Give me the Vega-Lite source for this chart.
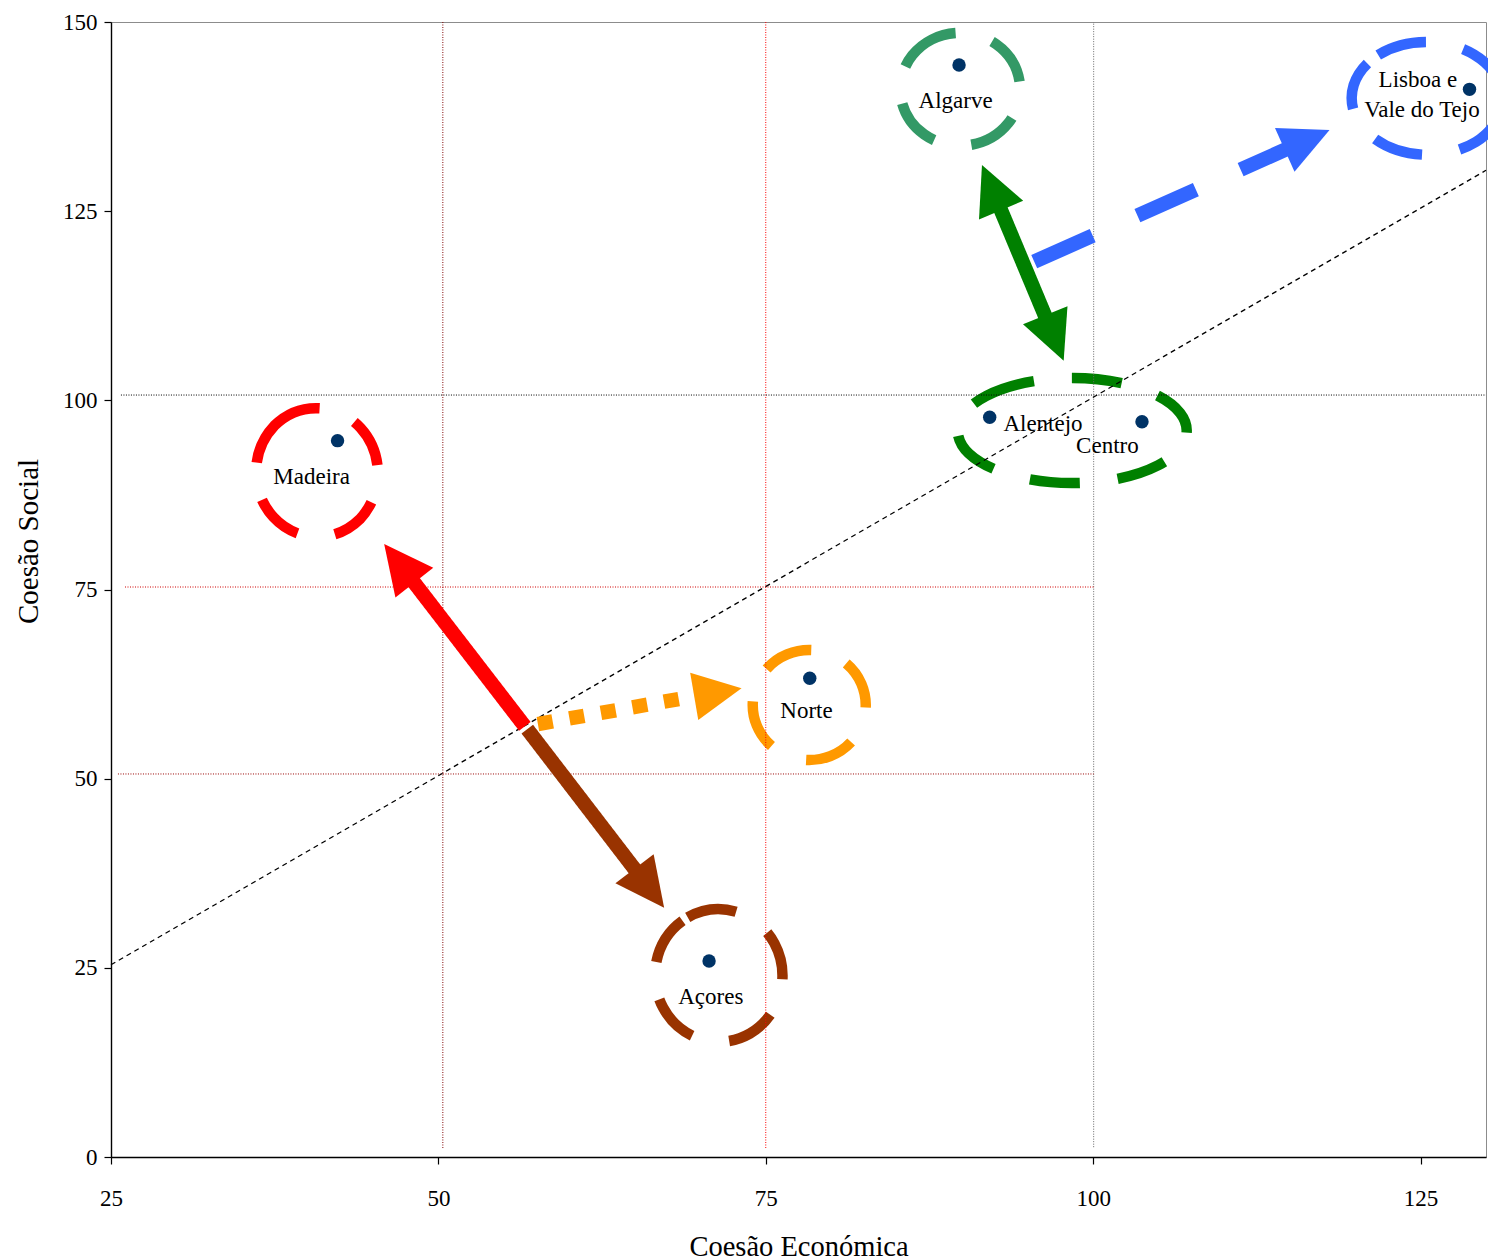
{
  "$schema": "https://vega.github.io/schema/vega-lite/v6.json",
  "width": 1375,
  "height": 1135,
  "autosize": {"type": "none"},
  "padding": {"left": 111, "top": 22, "right": 2, "bottom": 103},
  "background": "white",
  "config": {"view": {"stroke": "#8c8c8c", "strokeWidth": 1}, "font": "Liberation Serif"},
  "datasets": {
    "pts": [
      {"region": "Algarve", "x": 89.76, "y": 144.32},
      {"region": "Lisboa e Vale do Tejo", "x": 128.74, "y": 141.1},
      {"region": "Alentejo", "x": 92.1, "y": 97.76},
      {"region": "Centro", "x": 103.73, "y": 97.18},
      {"region": "Madeira", "x": 42.3, "y": 94.67},
      {"region": "Norte", "x": 78.36, "y": 63.26},
      {"region": "Açores", "x": 70.67, "y": 25.9}
    ],
    "labels": [
      {"label": "Algarve", "x": 89.5, "y": 138.63},
      {"label": "Lisboa e", "x": 124.8, "y": 141.45},
      {"label": "Vale do Tejo", "x": 125.11, "y": 137.4},
      {"label": "Alentejo", "x": 96.17, "y": 95.95},
      {"label": "Centro", "x": 101.09, "y": 93.08},
      {"label": "Madeira", "x": 40.32, "y": 88.9},
      {"label": "Norte", "x": 78.11, "y": 57.98},
      {"label": "Açores", "x": 70.8, "y": 20.18}
    ],
    "ellipses": [
      {"grp": "Algarve", "x": 89.85, "y": 141.1},
      {"grp": "Lisboa", "x": 125.5, "y": 139.9},
      {"grp": "Alentejo-Centro", "x": 98.4, "y": 96.0},
      {"grp": "Madeira", "x": 40.73, "y": 90.46},
      {"grp": "Norte", "x": 78.32, "y": 59.73},
      {"grp": "Açores", "x": 71.41, "y": 23.99}
    ],
    "grid": [
      {"line": "v50", "x": 50.34, "y": 1.19, "x2": 50.34, "y2": 150},
      {"line": "v75", "x": 75.0, "y": 1.19, "x2": 75.0, "y2": 150},
      {"line": "v100", "x": 100.04, "y": 1.3, "x2": 100.04, "y2": 150},
      {"line": "h100", "x": 25.76, "y": 100.7, "x2": 130, "y2": 100.7},
      {"line": "h75", "x": 26.07, "y": 75.33, "x2": 100.04, "y2": 75.33},
      {"line": "h50", "x": 25.53, "y": 50.62, "x2": 100.04, "y2": 50.62}
    ],
    "diag": [
      {"x": 25, "y": 25.4, "x2": 130, "y2": 130.4}
    ],
    "shafts": [
      {"arrow": "red", "x": 56.6, "y": 56.92, "x2": 47.01, "y2": 78.47},
      {"arrow": "brown", "x": 56.79, "y": 56.54, "x2": 66.11, "y2": 35.52},
      {"arrow": "orange", "x": 57.6, "y": 57.22, "x2": 68.57, "y2": 60.58},
      {"arrow": "green", "x": 92.25, "y": 128.07, "x2": 97.02, "y2": 108.32},
      {"arrow": "blue", "x": 95.5, "y": 118.32, "x2": 115.36, "y2": 133.65}
    ],
    "heads": [
      {"arrow": "red", "x": 45.86, "y": 81.01},
      {"arrow": "brown", "x": 67.24, "y": 32.95},
      {"arrow": "orange", "x": 73.15, "y": 61.94},
      {"arrow": "greenTop", "x": 91.51, "y": 131.1},
      {"arrow": "greenBottom", "x": 97.75, "y": 105.24},
      {"arrow": "blue", "x": 118.05, "y": 135.73}
    ]
  },
  "encoding": {
    "x": {
      "field": "x", "type": "quantitative",
      "scale": {"domain": [25, 130], "nice": false, "zero": false},
      "axis": {
        "values": [25, 50, 75, 100, 125],
        "grid": false,
        "title": "Coesão Económica",
        "tickSize": 7, "tickColor": "black", "tickWidth": 1.2,
        "domainColor": "black", "domainWidth": 1.4,
        "labelFont": "Liberation Serif", "labelFontSize": 23, "labelColor": "black",
        "labelPadding": 23, "labelFlush": false,
        "titleFont": "Liberation Serif", "titleFontSize": 28.5, "titleFontWeight": "normal",
        "titleColor": "black", "titleBaseline": "alphabetic", "titleY": 98
      }
    },
    "y": {
      "field": "y", "type": "quantitative",
      "scale": {"domain": [0, 150], "nice": false, "zero": false},
      "axis": {
        "values": [0, 25, 50, 75, 100, 125, 150],
        "grid": false,
        "title": "Coesão Social",
        "tickSize": 7, "tickColor": "black", "tickWidth": 1.2,
        "domainColor": "black", "domainWidth": 1.4,
        "labelFont": "Liberation Serif", "labelFontSize": 23, "labelColor": "black",
        "labelPadding": 7, "labelFlush": false,
        "titleFont": "Liberation Serif", "titleFontSize": 29, "titleFontWeight": "normal",
        "titleColor": "black", "titleBaseline": "alphabetic", "titleX": -74, "titleY": 519
      }
    }
  },
  "layer": [
    {
      "data": {"name": "ellipses"},
      "mark": {"type": "point", "filled": false, "size": 4, "strokeWidth": 10.5, "strokeDash": [50, 38], "opacity": 1},
      "encoding": {
        "shape": {
          "field": "grp", "type": "nominal", "legend": null,
          "scale": {
            "domain": ["Algarve", "Lisboa", "Alentejo-Centro", "Madeira", "Norte", "Açores"],
            "range": [
              "M -47.92 -34.0 A 60 56.5 0 0 1 47.92 34.0 A 60 56.5 0 0 1 -47.92 -34.0 Z",
              "M -48.85 -43.47 A 76 56.75 0 0 1 48.85 43.47 A 76 56.75 0 0 1 -48.85 -43.47 Z",
              "M -85.76 -34.79 A 114.5 52.5 0 0 1 85.76 34.79 A 114.5 52.5 0 0 1 -85.76 -34.79 Z",
              "M -42.72 -46.75 A 61.5 65 0 0 1 42.72 46.75 A 61.5 65 0 0 1 -42.72 -46.75 Z",
              "M -42.64 -36.09 A 56.5 55 0 0 1 42.64 36.09 A 56.5 55 0 0 1 -42.64 -36.09 Z",
              "M -31.03 -58.16 A 64 66.5 0 0 1 31.03 58.16 A 64 66.5 0 0 1 -31.03 -58.16 Z"
            ]
          }
        },
        "color": {
          "field": "grp", "type": "nominal", "legend": null,
          "scale": {
            "domain": ["Algarve", "Lisboa", "Alentejo-Centro", "Madeira", "Norte", "Açores"],
            "range": ["#339966", "#3366FF", "#008000", "#FF0000", "#FF9900", "#993300"]
          }
        }
      }
    },
    {
      "data": {"name": "grid"},
      "mark": {"type": "rule", "strokeDash": [1, 1.5], "strokeWidth": 1},
      "encoding": {
        "x2": {"field": "x2"},
        "y2": {"field": "y2"},
        "color": {
          "field": "line", "type": "nominal", "legend": null,
          "scale": {
            "domain": ["v50", "v75", "v100", "h100", "h75", "h50"],
            "range": ["#800000", "#FF0000", "#666666", "#000000", "#D00000", "#990000"]
          }
        }
      }
    },
    {
      "data": {"name": "diag"},
      "mark": {"type": "rule", "strokeDash": [5, 4], "strokeWidth": 1.3, "color": "black"},
      "encoding": {"x2": {"field": "x2"}, "y2": {"field": "y2"}}
    },
    {
      "data": {"name": "shafts"},
      "mark": {"type": "rule", "strokeWidth": 14.5, "strokeCap": "butt", "opacity": 1},
      "encoding": {
        "x2": {"field": "x2"},
        "y2": {"field": "y2"},
        "color": {
          "field": "arrow", "type": "nominal", "legend": null,
          "scale": {"domain": ["red", "brown", "orange", "green", "blue"], "range": ["#FF0000", "#993300", "#FF9900", "#008000", "#3366FF"]}
        },
        "strokeDash": {
          "field": "arrow", "type": "nominal", "legend": null,
          "scale": {"domain": ["red", "brown", "orange", "green", "blue"], "range": [[1, 0], [1, 0], [15, 17], [1, 0], [64, 49]]}
        }
      }
    },
    {
      "data": {"name": "heads"},
      "transform": [{"filter": "datum.arrow == 'red'"}],
      "mark": {"type": "point", "shape": "M 0 0 L 24 49 L -24 49 Z", "size": 4, "filled": true, "opacity": 1, "strokeWidth": 0, "color": "#FF0000", "angle": 322}
    },
    {
      "data": {"name": "heads"},
      "transform": [{"filter": "datum.arrow == 'brown'"}],
      "mark": {"type": "point", "shape": "M 0 0 L 24 49 L -24 49 Z", "size": 4, "filled": true, "opacity": 1, "strokeWidth": 0, "color": "#993300", "angle": 142.8}
    },
    {
      "data": {"name": "heads"},
      "transform": [{"filter": "datum.arrow == 'orange'"}],
      "mark": {"type": "point", "shape": "M 0 0 L 24 48 L -24 48 Z", "size": 4, "filled": true, "opacity": 1, "strokeWidth": 0, "color": "#FF9900", "angle": 80.3}
    },
    {
      "data": {"name": "heads"},
      "transform": [{"filter": "datum.arrow == 'greenTop'"}],
      "mark": {"type": "point", "shape": "M 0 0 L 24 49 L -24 49 Z", "size": 4, "filled": true, "opacity": 1, "strokeWidth": 0, "color": "#008000", "angle": 337}
    },
    {
      "data": {"name": "heads"},
      "transform": [{"filter": "datum.arrow == 'greenBottom'"}],
      "mark": {"type": "point", "shape": "M 0 0 L 24 49 L -24 49 Z", "size": 4, "filled": true, "opacity": 1, "strokeWidth": 0, "color": "#008000", "angle": 157.9}
    },
    {
      "data": {"name": "heads"},
      "transform": [{"filter": "datum.arrow == 'blue'"}],
      "mark": {"type": "point", "shape": "M 0 0 L 24 49 L -24 49 Z", "size": 4, "filled": true, "opacity": 1, "strokeWidth": 0, "color": "#3366FF", "angle": 66}
    },
    {
      "data": {"name": "pts"},
      "mark": {"type": "circle", "size": 180, "color": "#003366", "opacity": 1}
    },
    {
      "data": {"name": "labels"},
      "mark": {"type": "text", "font": "Liberation Serif", "fontSize": 23, "align": "center", "baseline": "alphabetic", "color": "black"},
      "encoding": {"text": {"field": "label", "type": "nominal"}}
    }
  ],
  "resolve": {"scale": {"color": "independent", "shape": "independent", "strokeDash": "independent"}}
}
